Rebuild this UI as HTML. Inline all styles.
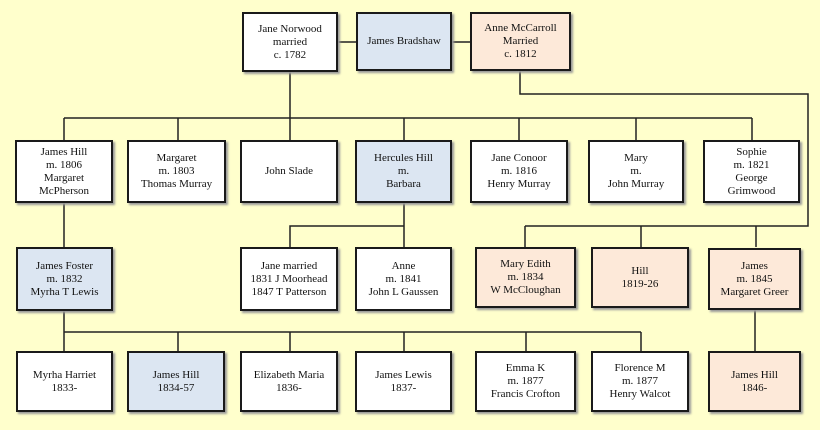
<!DOCTYPE html>
<html><head><style>
body{margin:0;width:820px;height:430px;background:#ffffcc;position:relative;overflow:hidden;font-family:"Liberation Serif",serif;font-size:11px;color:#111}
.b{position:absolute;box-sizing:border-box;border:2px solid #1a1a1a;background:#fff;display:flex;align-items:center;justify-content:center;text-align:center;line-height:13px;box-shadow:2px 2px 2px #999}
.u{background:#dce6f2}.p{background:#fde9d9}
svg{position:absolute;left:0;top:0}
</style></head><body>
<svg width="820" height="430"><g stroke="#222" stroke-width="1.5" fill="none">
<path d="M338 42H356M452 42H470"/>
<path d="M290 72V118M64 118H752M64 118V140M178 118V140M290 118V140M404 118V140M519 118V140M636 118V140M752 118V140"/>
<path d="M520 71V94H808V226H525M525 226V247M641 226V247M756 226V247"/>
<path d="M404 203V226H290V247M404 226V247"/>
<path d="M64 203V247M64 311V332H641M64 332V351M178 332V351M290 332V351M404 332V351M526 332V351M641 332V351"/>
<path d="M755 310V351"/>
</g></svg>
<div class="b" style="left:242px;top:12px;width:96px;height:60px">Jane Norwood<br>married<br>c. 1782</div>
<div class="b u" style="left:356px;top:12px;width:96px;height:59px">James Bradshaw</div>
<div class="b p" style="left:470px;top:12px;width:101px;height:59px">Anne McCarroll<br>Married<br>c. 1812</div>

<div class="b" style="left:15px;top:140px;width:98px;height:63px">James Hill<br>m. 1806<br>Margaret<br>McPherson</div>
<div class="b" style="left:127px;top:140px;width:99px;height:63px">Margaret<br>m. 1803<br>Thomas Murray</div>
<div class="b" style="left:240px;top:140px;width:98px;height:63px">John Slade</div>
<div class="b u" style="left:355px;top:140px;width:97px;height:63px">Hercules Hill<br>m.<br>Barbara</div>
<div class="b" style="left:470px;top:140px;width:98px;height:63px">Jane Conoor<br>m. 1816<br>Henry Murray</div>
<div class="b" style="left:588px;top:140px;width:96px;height:63px">Mary<br>m.<br>John Murray</div>
<div class="b" style="left:703px;top:140px;width:97px;height:63px">Sophie<br>m. 1821<br>George<br>Grimwood</div>

<div class="b u" style="left:16px;top:247px;width:97px;height:64px">James Foster<br>m. 1832<br>Myrha T Lewis</div>
<div class="b" style="left:240px;top:247px;width:98px;height:64px">Jane married<br>1831 J Moorhead<br>1847 T Patterson</div>
<div class="b" style="left:355px;top:247px;width:97px;height:64px">Anne<br>m. 1841<br>John L Gaussen</div>
<div class="b p" style="left:475px;top:247px;width:101px;height:61px">Mary Edith<br>m. 1834<br>W McCloughan</div>
<div class="b p" style="left:591px;top:247px;width:98px;height:61px">Hill<br>1819-26</div>
<div class="b p" style="left:708px;top:248px;width:93px;height:62px">James<br>m. 1845<br>Margaret Greer</div>

<div class="b" style="left:16px;top:351px;width:97px;height:61px">Myrha Harriet<br>1833-</div>
<div class="b u" style="left:127px;top:351px;width:98px;height:61px">James Hill<br>1834-57</div>
<div class="b" style="left:240px;top:351px;width:98px;height:61px">Elizabeth Maria<br>1836-</div>
<div class="b" style="left:355px;top:351px;width:97px;height:61px">James Lewis<br>1837-</div>
<div class="b" style="left:475px;top:351px;width:101px;height:61px">Emma K<br>m. 1877<br>Francis Crofton</div>
<div class="b" style="left:591px;top:351px;width:98px;height:61px">Florence M<br>m. 1877<br>Henry Walcot</div>
<div class="b p" style="left:708px;top:351px;width:93px;height:61px">James Hill<br>1846-</div>
</body></html>
